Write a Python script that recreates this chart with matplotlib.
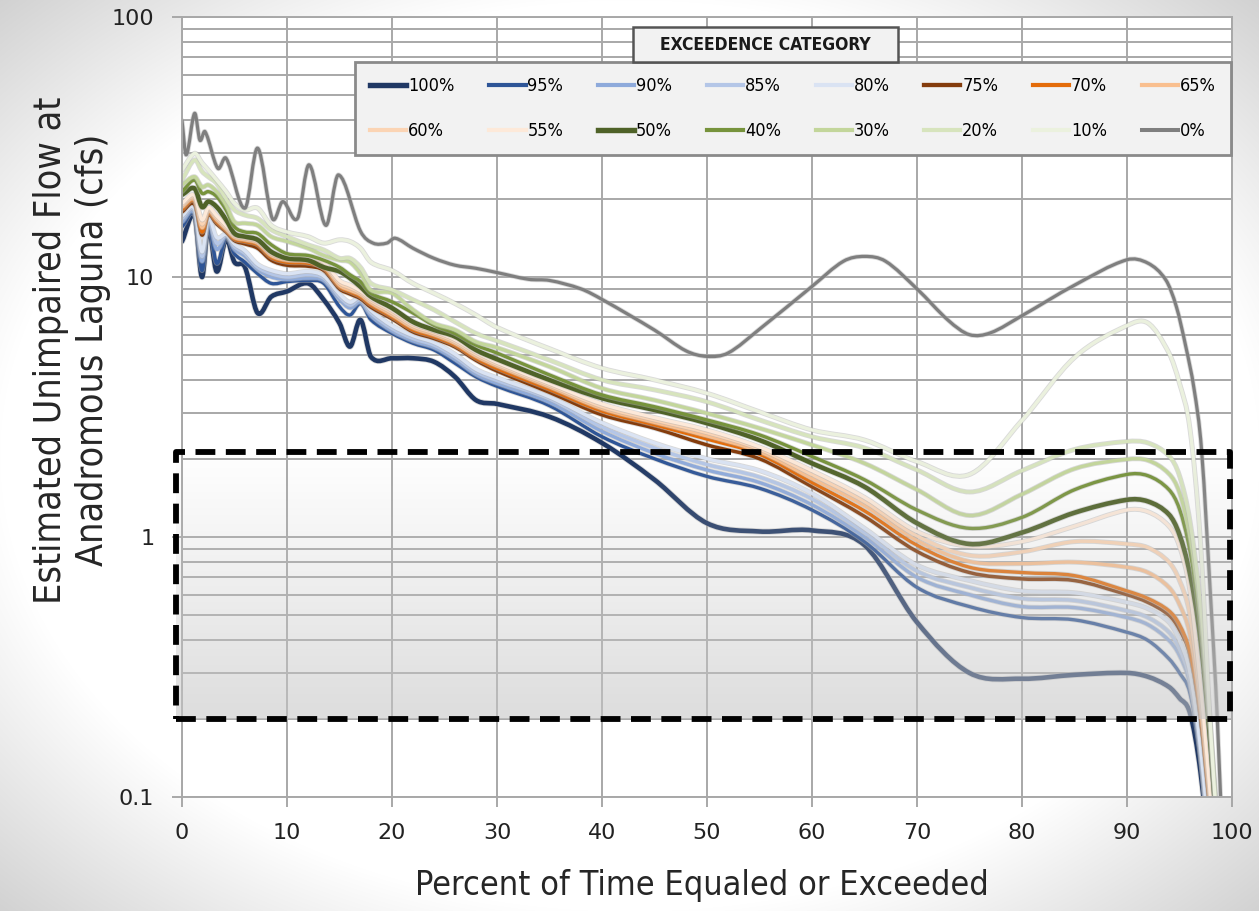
import numpy as np
import matplotlib
matplotlib.use("Agg")
import matplotlib.pyplot as plt
from matplotlib.path import Path
from matplotlib.patches import PathPatch, Rectangle
from matplotlib.lines import Line2D
from matplotlib.ticker import FixedLocator, NullFormatter, LogLocator
import matplotlib.patheffects as pe

# ---------------- data ----------------
x_pct = [0, 1.2, 1.9, 2.5, 3.3, 4.2, 5, 6, 7.2, 8.5, 10, 12, 13.5, 15, 16, 17, 18, 20, 22, 24,
         26, 28, 30, 35, 40, 45, 50, 55, 60, 65, 70, 75, 80, 85, 90, 92, 94, 95, 96, 97, 98, 99]

q100 = [13.7, 17.1, 10.0, 15.6, 10.5, 14.0, 11.4, 10.9, 7.27, 8.4, 8.8, 9.45, 8.17, 6.64, 5.4, 6.84, 4.93, 4.87, 4.87, 4.72,
        4.13, 3.36, 3.25, 2.9, 2.3, 1.66, 1.13, 1.05, 1.06, 0.93, 0.47, 0.30, 0.285, 0.295, 0.30, 0.29, 0.265, 0.24, 0.21, 0.125, 0.05, 0.02]
q95 = [15.6, 17.3, 10.6, 16.1, 11.3, 14.3, 12.3, 11.4, 10.3, 9.45, 9.6, 9.7, 9.45, 7.69, 7.14, 7.91, 6.84, 6.07, 5.56, 5.24,
       4.66, 4.13, 3.8, 3.2, 2.43, 2.0, 1.71, 1.54, 1.27, 0.96, 0.64, 0.54, 0.49, 0.48, 0.43, 0.40, 0.34, 0.30, 0.25, 0.14, 0.05, 0.02]
q90 = [16.3, 17.6, 11.5, 16.4, 12.8, 14.4, 12.8, 12.0, 10.7, 10.0, 9.8, 9.9, 9.7, 8.2, 7.6, 8.0, 7.1, 6.2, 5.68, 5.36,
       4.82, 4.22, 3.9, 3.3, 2.55, 2.1, 1.81, 1.62, 1.33, 1.0, 0.7, 0.60, 0.54, 0.535, 0.49, 0.46, 0.40, 0.35, 0.27, 0.145, 0.052, 0.02]
q85 = [16.8, 18.0, 12.0, 16.6, 13.5, 14.5, 13.1, 12.3, 10.9, 10.3, 10.0, 10.2, 9.9, 8.4, 7.8, 8.17, 7.27, 6.34, 5.8, 5.47,
       4.93, 4.32, 4.0, 3.4, 2.65, 2.2, 1.9, 1.7, 1.4, 1.04, 0.74, 0.64, 0.58, 0.57, 0.52, 0.49, 0.43, 0.37, 0.28, 0.15, 0.055, 0.02]
q80 = [17.2, 18.3, 12.5, 16.9, 14.2, 14.6, 13.4, 12.6, 11.2, 10.6, 10.3, 10.5, 10.1, 8.6, 8.0, 8.35, 7.45, 6.5, 5.95, 5.6,
       5.05, 4.42, 4.1, 3.46, 2.75, 2.3, 2.0, 1.8, 1.47, 1.08, 0.78, 0.68, 0.62, 0.61, 0.56, 0.53, 0.47, 0.40, 0.30, 0.155, 0.058, 0.02]
q75 = [17.8, 19.0, 14.5, 17.3, 16.0, 14.9, 13.8, 13.4, 12.9, 11.6, 11.1, 11.0, 10.6, 9.0, 8.6, 8.25, 7.65, 6.9, 6.15, 5.8,
       5.38, 4.78, 4.35, 3.6, 2.95, 2.62, 2.26, 2.0, 1.56, 1.2, 0.88, 0.73, 0.69, 0.68, 0.60, 0.56, 0.50, 0.44, 0.35, 0.20, 0.08, 0.03]
q70 = [18.2, 19.5, 14.9, 17.6, 16.3, 15.1, 14.0, 13.7, 13.3, 11.9, 11.4, 11.3, 10.8, 9.17, 8.77, 8.4, 7.81, 7.03, 6.26, 5.9,
       5.47, 4.87, 4.45, 3.7, 3.05, 2.7, 2.38, 2.08, 1.62, 1.26, 0.93, 0.765, 0.73, 0.71, 0.62, 0.58, 0.52, 0.46, 0.36, 0.21, 0.082, 0.03]
q65 = [18.6, 19.8, 15.5, 17.9, 16.6, 15.3, 14.2, 13.9, 13.5, 12.1, 11.6, 11.5, 11.0, 9.3, 8.9, 8.55, 7.95, 7.15, 6.38, 6.0,
       5.56, 4.96, 4.55, 3.78, 3.12, 2.76, 2.45, 2.13, 1.68, 1.32, 0.97, 0.805, 0.79, 0.80, 0.765, 0.73, 0.64, 0.55, 0.42, 0.22, 0.085, 0.03]
q60 = [18.9, 20.2, 16.0, 18.2, 16.9, 15.5, 14.4, 14.1, 13.7, 12.3, 11.8, 11.7, 11.2, 9.5, 9.1, 8.7, 8.1, 7.3, 6.5, 6.1,
       5.65, 5.05, 4.62, 3.84, 3.18, 2.82, 2.52, 2.18, 1.74, 1.37, 1.01, 0.85, 0.877, 0.96, 0.94, 0.91, 0.80, 0.68, 0.50, 0.24, 0.09, 0.03]
q55 = [19.2, 20.6, 16.6, 18.5, 17.2, 15.8, 14.6, 14.3, 13.9, 12.5, 12.0, 11.9, 11.4, 9.7, 9.3, 8.85, 8.25, 7.45, 6.62, 6.2,
       5.75, 5.15, 4.7, 3.9, 3.25, 2.88, 2.58, 2.22, 1.8, 1.42, 1.05, 0.92, 0.96, 1.1, 1.27, 1.25, 1.10, 0.92, 0.62, 0.27, 0.095, 0.03]
q50 = [20.7, 21.9, 18.6, 19.5, 18.6, 16.6, 14.7, 14.3, 13.9, 12.5, 11.8, 11.6, 10.9, 10.5, 9.9, 9.17, 8.4, 7.6, 6.72, 6.26,
       5.9, 5.24, 4.83, 4.02, 3.42, 3.08, 2.74, 2.36, 1.92, 1.56, 1.13, 0.94, 1.04, 1.24, 1.39, 1.37, 1.22, 1.02, 0.72, 0.40, 0.15, 0.04]
q40 = [21.3, 23.6, 21.0, 21.3, 20.4, 18.1, 15.6, 14.9, 14.7, 13.3, 12.3, 12.1, 11.6, 10.9, 10.2, 9.6, 8.66, 8.03, 7.27, 6.52,
       6.07, 5.47, 5.1, 4.2, 3.52, 3.17, 2.82, 2.47, 2.04, 1.66, 1.27, 1.08, 1.19, 1.52, 1.74, 1.72, 1.52, 1.28, 0.88, 0.46, 0.16, 0.04]
q30 = [22.6, 24.3, 22.2, 22.6, 21.3, 18.9, 16.3, 16.1, 15.8, 14.3, 13.7, 12.9, 12.1, 11.6, 11.4, 10.3, 8.9, 8.66, 7.48, 6.64,
       6.26, 5.63, 5.35, 4.52, 3.73, 3.36, 2.99, 2.62, 2.26, 1.92, 1.52, 1.21, 1.46, 1.83, 1.99, 1.97, 1.75, 1.48, 1.0, 0.50, 0.17, 0.045]
q20 = [23.6, 28.2, 25.5, 24.3, 22.9, 20.0, 18.1, 17.3, 16.8, 15.2, 14.3, 13.3, 12.7, 11.8, 11.8, 10.9, 9.45, 8.93, 8.17, 7.48,
       6.72, 6.07, 5.68, 4.79, 4.02, 3.68, 3.31, 2.82, 2.43, 2.2, 1.81, 1.49, 1.80, 2.17, 2.33, 2.30, 2.05, 1.72, 1.15, 0.55, 0.18, 0.045]
q10 = [25.8, 29.9, 27.5, 25.8, 23.6, 21.3, 19.2, 18.1, 18.4, 15.8, 14.9, 14.3, 13.5, 13.9, 13.7, 12.9, 11.4, 10.6, 9.45, 8.66,
       7.91, 7.14, 6.4, 5.3, 4.46, 4.02, 3.57, 3.03, 2.58, 2.36, 1.95, 1.74, 2.81, 4.9, 6.5, 6.65, 5.1, 3.9, 2.6, 0.95, 0.17, 0.045]

x_zero = [0, 0.4, 1.2, 1.7, 2.2, 3.4, 4.2, 6.0, 7.2, 8.6, 9.6, 11.0, 12.1, 13.7, 14.9, 17.0, 18.2, 19.5, 20.3, 22,
          24, 26, 28, 30, 33, 35, 38, 40, 45, 48, 50, 52, 55, 60, 63, 65, 67, 70, 73, 75,
          77, 80, 85, 90, 92, 93.7, 94.7, 95.6, 96.4, 97.1, 98, 98.6, 99.2]
q0 = [40, 29.5, 42.6, 33.6, 36.2, 26.2, 28.6, 18.4, 31.3, 16.8, 19.5, 16.8, 27.0, 15.8, 24.7, 15.0, 13.5, 13.5, 14.1, 12.9,
      11.8, 11.1, 10.8, 10.4, 9.8, 9.7, 9.0, 8.2, 6.25, 5.2, 4.95, 5.1, 6.3, 9.2, 11.5, 12.0, 11.5, 9.0, 6.8, 6.0,
      6.1, 7.1, 9.3, 11.65, 11.3, 9.74, 7.69, 5.4, 3.68, 2.16, 0.55, 0.2, 0.05]

labels = ["100%", "95%", "90%", "85%", "80%", "75%", "70%", "65%",
          "60%", "55%", "50%", "40%", "30%", "20%", "10%", "0%"]
series = [q100, q95, q90, q85, q80, q75, q70, q65, q60, q55, q50, q40, q30, q20, q10, q0]
colors = ["#203864", "#2e5597", "#8eaadb", "#b4c6e7", "#dae3f3", "#843c0c", "#e46c0a", "#f9bf8f",
          "#fbd4b4", "#fde9d9", "#4f6228", "#77933c", "#c3d69b", "#d7e4bd", "#ebf1de", "#7f7f7f"]
widths = [3.3, 2.4, 2.4, 2.4, 2.4, 2.5, 2.4, 2.4, 2.4, 2.4, 3.3, 2.4, 2.4, 2.4, 2.4, 2.3]

box_low, box_high = 0.2, 2.12
box_x0, box_x1 = -0.6, 99.8

y_ticks = [0.1, 1, 10, 100]
y_ticklabels = ["0.1", "1", "10", "100"]
x_ticks = list(range(0, 101, 10))

# ---------------- helpers ----------------
def smooth_path(x, y):
    """Excel-like smoothed line: cubic Bezier segments through the data points
    (tangents computed in log-y space, as the axis is logarithmic)."""
    x = np.asarray(x, float)
    ly = np.log10(np.asarray(y, float))
    n = len(x)
    m = np.empty(n)
    m[1:-1] = (ly[2:] - ly[:-2]) / (x[2:] - x[:-2])
    m[0] = (ly[1] - ly[0]) / (x[1] - x[0])
    m[-1] = (ly[-1] - ly[-2]) / (x[-1] - x[-2])
    verts = [(x[0], 10 ** ly[0])]
    codes = [Path.MOVETO]
    for i in range(n - 1):
        h = x[i + 1] - x[i]
        verts.append((x[i] + h / 3, 10 ** (ly[i] + m[i] * h / 3)))
        verts.append((x[i + 1] - h / 3, 10 ** (ly[i + 1] - m[i + 1] * h / 3)))
        verts.append((x[i + 1], 10 ** ly[i + 1]))
        codes += [Path.CURVE4] * 3
    return Path(verts, codes)

# ---------------- figure ----------------
W, H = 1259, 911
fig = plt.figure(figsize=(W / 100, H / 100), dpi=100, facecolor="white")

# soft grey vignette of the slide background
yy, xx = np.mgrid[0:H, 0:W]
d = np.sqrt(((xx - W / 2) / (W / 2)) ** 2 + ((yy - H / 2) / (H / 2)) ** 2)
shade = 1 - 0.18 * np.clip((d - 1.0) / 0.42, 0, 1)
bg = np.dstack([shade, shade, shade])
fig.figimage(bg, xo=0, yo=0, origin="upper", zorder=-10)

ax = fig.add_axes([182 / W, 1 - 797 / H, 1050 / W, 780 / H])
ax.set_zorder(1)
ax.set_facecolor("white")
ax.set_yscale("log")
ax.set_xlim(0, 100)
ax.set_ylim(0.1, 100)

grid_c = "#a8a8a8"
ax.set_axisbelow(True)
ax.yaxis.set_major_locator(FixedLocator(y_ticks))
ax.set_yticklabels(y_ticklabels)
ax.yaxis.set_minor_locator(LogLocator(base=10, subs=np.arange(2, 10)))
ax.yaxis.set_minor_formatter(NullFormatter())
ax.set_xticks(x_ticks)
ax.set_xticklabels([str(v) for v in x_ticks])
ax.grid(True, which="major", axis="both", color=grid_c, lw=1.4)
ax.grid(True, which="minor", axis="y", color=grid_c, lw=1.4)
ax.tick_params(axis="both", which="major", length=7, width=1.4, color=grid_c,
               labelsize=16, labelcolor="#222222", direction="out")
ax.tick_params(axis="y", which="major", pad=13)
ax.tick_params(axis="x", which="major", pad=12)
ax.tick_params(axis="y", which="minor", length=0)
for s in ax.spines.values():
    s.set_color(grid_c)
    s.set_linewidth(1.4)

# curves
for xs_, ys_, c, lw in zip([x_pct] * 15 + [x_zero], series, colors, widths):
    patch = PathPatch(smooth_path(xs_, ys_), fill=False, edgecolor=c, lw=lw,
                      capstyle="round", joinstyle="round", zorder=2)
    patch.set_path_effects([pe.Stroke(linewidth=lw + 1.2, foreground="#b5b5b5", alpha=0.5),
                            pe.Normal()])
    ax.add_patch(patch)

# shaded (gradient) box with dashed border: white at the top, grey at the bottom
fy0 = (np.log10(box_low) + 1) / 3
fy1 = (np.log10(box_high) + 1) / 3
fx0 = box_x0 / 100
fx1 = box_x1 / 100
ng = 256
alpha = np.linspace(0.0, 0.6, ng)[:, None]
grad = np.zeros((ng, 2, 4))
grad[..., 0:3] = 0.78
grad[..., 3] = alpha
ax.imshow(grad, extent=[fx0, fx1, fy0, fy1], origin="upper", transform=ax.transAxes,
          aspect="auto", zorder=3, clip_on=False, interpolation="bilinear")
ax.set_xlim(0, 100)
ax.set_ylim(0.1, 100)
ax.add_patch(Rectangle((fx0, fy0), fx1 - fx0, fy1 - fy0, transform=ax.transAxes,
                       fill=False, edgecolor="black", lw=4.2, linestyle=(0, (3.4, 1.8)),
                       joinstyle="round", zorder=4, clip_on=False))

# legend
handles = [Line2D([], [], color=c, lw=lw + 0.6) for c, lw in zip(colors, widths)]
order = []
for j in range(8):
    order += [j, j + 8]
lx0 = (355 - 182) / 1050
lx1 = (1231 - 182) / 1050
ly1 = (797 - 62) / 780
ly0 = (797 - 155) / 780
leg = ax.legend([handles[i] for i in order], [labels[i] for i in order], ncol=8,
                loc="upper left", bbox_to_anchor=(lx0, ly0, lx1 - lx0, ly1 - ly0),
                mode="expand", frameon=True, fancybox=False, framealpha=1,
                facecolor="#f2f2f2", edgecolor="#8a8a8a", borderpad=0.85,
                labelspacing=1.48, handlelength=2.0, handletextpad=0.1,
                borderaxespad=0,
                prop={"family": "DejaVu Sans", "stretch": "condensed", "size": 13})
leg.get_frame().set_linewidth(2.0)
leg.set_zorder(6)

# legend title box
tx0 = (633 - 182) / 1050
tx1 = (898 - 182) / 1050
ty1 = (797 - 27) / 780
ty0 = (797 - 62) / 780
ax.add_patch(Rectangle((tx0, ty0), tx1 - tx0, ty1 - ty0, transform=ax.transAxes,
                       facecolor="#f2f2f2", edgecolor="#555555", lw=1.8, zorder=7,
                       clip_on=False))
ax.text((tx0 + tx1) / 2, (ty0 + ty1) / 2, "EXCEEDENCE CATEGORY", transform=ax.transAxes,
        ha="center", va="center", fontsize=12.5, fontweight="bold",
        family="DejaVu Sans", fontstretch="condensed", color="#1a1a1a", zorder=8)

# axis titles
fig.text(72 / W, 1 - 350 / H, "Estimated Unimpaired Flow at\nAnadromous Laguna (cfs)",
         rotation=90, ha="center", va="center", multialignment="center",
         fontsize=27, family="DejaVu Sans", fontstretch="condensed",
         color="#262626", linespacing=1.2)
fig.text(702 / W, 1 - 885 / H, "Percent of Time Equaled or Exceeded",
         ha="center", va="center", fontsize=24.6, family="DejaVu Sans",
         fontstretch="condensed", color="#262626")

fig.savefig("out.png", dpi=100, facecolor=fig.get_facecolor())
